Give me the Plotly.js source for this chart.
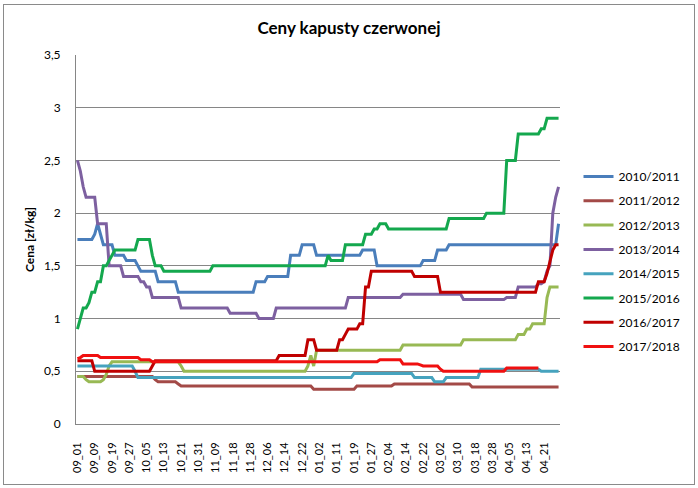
<!DOCTYPE html>
<html><head><meta charset="utf-8">
<script src="https://cdn.plot.ly/plotly-3.0.1.min.js"></script>
<style>
html,body{margin:0;padding:0;background:#fff;}
#chart{position:absolute;left:0;top:0;width:698px;height:488px;}
#frame{position:absolute;left:3px;top:4px;width:690px;height:479px;border:1px solid #8a8a8a;pointer-events:none;}
</style>
</head><body>
<div id="chart"></div><div id="frame"></div>
<script>
const tickLabels = ["09_01","09_09","09_19","09_27","10_05","10_13","10_21","10_31","11_09","11_18","11_28","12_06","12_14","12_22","01_02","01_11","01_19","01_27","02_04","02_14","02_22","03_02","03_10","03_18","03_28","04_05","04_13","04_21"];

const seriesNames = ["2010/2011","2011/2012","2012/2013","2013/2014","2014/2015","2015/2016","2016/2017","2017/2018"];
const seriesColors = ["#4A7EBB","#A34A47","#98B954","#7D60A0","#46A3BE","#14A84E","#C00000","#F01010"];

const s2010 = [
1.75,1.75,1.75,1.75,1.75,1.75,1.8,1.9,1.8,1.7,1.7,1.7,
1.7,1.6,1.6,1.6,1.6,1.55,1.55,1.55,1.55,1.5,1.45,1.45,
1.45,1.45,1.45,1.45,1.35,1.35,1.35,1.35,1.35,1.35,1.35,1.25,
1.25,1.25,1.25,1.25,1.25,1.25,1.25,1.25,1.25,1.25,1.25,1.25,
1.25,1.25,1.25,1.25,1.25,1.25,1.25,1.25,1.25,1.25,1.25,1.25,
1.25,1.25,1.35,1.35,1.35,1.35,1.4,1.4,1.4,1.4,1.4,1.4,
1.4,1.4,1.6,1.6,1.6,1.6,1.7,1.7,1.7,1.7,1.7,1.6,
1.6,1.6,1.6,1.6,1.6,1.6,1.6,1.6,1.6,1.6,1.6,1.6,
1.6,1.6,1.6,1.65,1.65,1.65,1.65,1.65,1.5,1.5,1.5,1.5,
1.5,1.5,1.5,1.5,1.5,1.5,1.5,1.5,1.5,1.5,1.5,1.5,
1.55,1.55,1.55,1.55,1.55,1.65,1.65,1.65,1.65,1.7,1.7,1.7,
1.7,1.7,1.7,1.7,1.7,1.7,1.7,1.7,1.7,1.7,1.7,1.7,
1.7,1.7,1.7,1.7,1.7,1.7,1.7,1.7,1.7,1.7,1.7,1.7,
1.7,1.7,1.7,1.7,1.7,1.7,1.7,1.7,1.7,1.7,1.7,1.9];

const s2011 = [
0.45,0.45,0.45,0.45,0.45,0.45,0.45,0.45,0.45,0.45,0.45,0.45,
0.45,0.45,0.45,0.45,0.45,0.45,0.45,0.45,0.45,0.45,0.45,0.45,
0.45,0.45,0.45,0.42,0.4,0.4,0.4,0.4,0.4,0.4,0.4,0.38,
0.36,0.36,0.36,0.36,0.36,0.36,0.36,0.36,0.36,0.36,0.36,0.36,
0.36,0.36,0.36,0.36,0.36,0.36,0.36,0.36,0.36,0.36,0.36,0.36,
0.36,0.36,0.36,0.36,0.36,0.36,0.36,0.36,0.36,0.36,0.36,0.36,
0.36,0.36,0.36,0.36,0.36,0.36,0.36,0.36,0.36,0.36,0.33,0.33,
0.33,0.33,0.33,0.33,0.33,0.33,0.33,0.33,0.33,0.33,0.33,0.33,
0.33,0.36,0.36,0.36,0.36,0.36,0.36,0.36,0.36,0.36,0.36,0.36,
0.36,0.36,0.38,0.38,0.38,0.38,0.38,0.38,0.38,0.38,0.38,0.38,
0.38,0.38,0.38,0.38,0.38,0.38,0.38,0.38,0.38,0.38,0.38,0.38,
0.38,0.38,0.38,0.38,0.38,0.35,0.35,0.35,0.35,0.35,0.35,0.35,
0.35,0.35,0.35,0.35,0.35,0.35,0.35,0.35,0.35,0.35,0.35,0.35,
0.35,0.35,0.35,0.35,0.35,0.35,0.35,0.35,0.35,0.35,0.35,0.35];

const s2012 = [
0.45,0.45,0.45,0.42,0.4,0.4,0.4,0.4,0.4,0.42,0.47,0.55,
0.59,0.59,0.59,0.59,0.59,0.59,0.59,0.59,0.59,0.59,0.59,0.59,
0.59,0.59,0.59,0.59,0.59,0.59,0.59,0.59,0.59,0.59,0.59,0.59,
0.55,0.5,0.5,0.5,0.5,0.5,0.5,0.5,0.5,0.5,0.5,0.5,
0.5,0.5,0.5,0.5,0.5,0.5,0.5,0.5,0.5,0.5,0.5,0.5,
0.5,0.5,0.5,0.5,0.5,0.5,0.5,0.5,0.5,0.5,0.5,0.5,
0.5,0.5,0.5,0.5,0.5,0.5,0.5,0.5,0.55,0.65,0.55,0.7,
0.7,0.7,0.7,0.7,0.7,0.7,0.7,0.7,0.7,0.7,0.7,0.7,
0.7,0.7,0.7,0.7,0.7,0.7,0.7,0.7,0.7,0.7,0.7,0.7,
0.7,0.7,0.7,0.7,0.7,0.75,0.75,0.75,0.75,0.75,0.75,0.75,
0.75,0.75,0.75,0.75,0.75,0.75,0.75,0.75,0.75,0.75,0.75,0.75,
0.75,0.75,0.8,0.8,0.8,0.8,0.8,0.8,0.8,0.8,0.8,0.8,
0.8,0.8,0.8,0.8,0.8,0.8,0.8,0.8,0.8,0.85,0.85,0.85,
0.9,0.9,0.95,0.95,0.95,0.95,0.95,1.2,1.3,1.3,1.3,1.3];

const s2013 = [
2.5,2.4,2.25,2.15,2.15,2.15,2.15,1.9,1.9,1.9,1.9,1.5,
1.5,1.5,1.5,1.5,1.4,1.4,1.4,1.4,1.4,1.4,1.35,1.35,
1.3,1.3,1.2,1.2,1.2,1.2,1.2,1.2,1.2,1.2,1.2,1.2,
1.1,1.1,1.1,1.1,1.1,1.1,1.1,1.1,1.1,1.1,1.1,1.1,
1.1,1.1,1.1,1.1,1.1,1.05,1.05,1.05,1.05,1.05,1.05,1.05,
1.05,1.05,1.05,1.0,1.0,1.0,1.0,1.0,1.0,1.1,1.1,1.1,
1.1,1.1,1.1,1.1,1.1,1.1,1.1,1.1,1.1,1.1,1.1,1.1,
1.1,1.1,1.1,1.1,1.1,1.1,1.1,1.1,1.1,1.1,1.2,1.2,
1.2,1.2,1.2,1.2,1.2,1.2,1.2,1.2,1.2,1.2,1.2,1.2,
1.2,1.2,1.2,1.2,1.2,1.23,1.23,1.23,1.23,1.23,1.23,1.23,
1.23,1.23,1.23,1.23,1.23,1.23,1.23,1.23,1.23,1.23,1.23,1.23,
1.23,1.23,1.18,1.18,1.18,1.18,1.18,1.18,1.18,1.18,1.18,1.18,
1.18,1.18,1.18,1.18,1.18,1.2,1.2,1.2,1.2,1.3,1.3,1.3,
1.3,1.3,1.3,1.3,1.33,1.33,1.35,1.45,1.5,2.0,2.15,2.25];

const s2014 = [
0.55,0.55,0.55,0.55,0.55,0.55,0.55,0.55,0.55,0.55,0.55,0.55,
0.55,0.55,0.55,0.55,0.55,0.55,0.55,0.55,0.5,0.44,0.44,0.44,
0.44,0.44,0.44,0.44,0.44,0.44,0.44,0.44,0.44,0.44,0.44,0.44,
0.44,0.44,0.44,0.44,0.44,0.44,0.44,0.44,0.44,0.44,0.44,0.44,
0.44,0.44,0.44,0.44,0.44,0.44,0.44,0.44,0.44,0.44,0.44,0.44,
0.44,0.44,0.44,0.44,0.44,0.44,0.44,0.44,0.44,0.44,0.44,0.44,
0.44,0.44,0.44,0.44,0.44,0.44,0.44,0.44,0.44,0.44,0.44,0.44,
0.44,0.44,0.44,0.44,0.44,0.44,0.44,0.44,0.44,0.44,0.44,0.44,
0.48,0.48,0.48,0.48,0.48,0.48,0.48,0.48,0.48,0.48,0.48,0.48,
0.48,0.48,0.48,0.48,0.48,0.48,0.48,0.48,0.48,0.44,0.44,0.44,
0.44,0.44,0.44,0.44,0.4,0.4,0.4,0.4,0.44,0.44,0.44,0.44,
0.44,0.44,0.44,0.44,0.44,0.44,0.44,0.44,0.52,0.52,0.52,0.52,
0.52,0.52,0.52,0.52,0.52,0.52,0.52,0.52,0.52,0.52,0.52,0.52,
0.52,0.52,0.52,0.52,0.52,0.5,0.5,0.5,0.5,0.5,0.5,0.5];

const s2015 = [
0.9,1.0,1.1,1.1,1.15,1.25,1.25,1.35,1.35,1.5,1.5,1.55,
1.6,1.65,1.65,1.65,1.65,1.65,1.65,1.65,1.65,1.75,1.75,1.75,
1.75,1.75,1.6,1.5,1.5,1.5,1.45,1.45,1.45,1.45,1.45,1.45,
1.45,1.45,1.45,1.45,1.45,1.45,1.45,1.45,1.45,1.45,1.45,1.5,
1.5,1.5,1.5,1.5,1.5,1.5,1.5,1.5,1.5,1.5,1.5,1.5,
1.5,1.5,1.5,1.5,1.5,1.5,1.5,1.5,1.5,1.5,1.5,1.5,
1.5,1.5,1.5,1.5,1.5,1.5,1.5,1.5,1.5,1.5,1.5,1.5,
1.5,1.5,1.5,1.6,1.55,1.55,1.55,1.55,1.55,1.7,1.7,1.7,
1.7,1.7,1.7,1.7,1.8,1.8,1.8,1.85,1.85,1.9,1.9,1.9,
1.85,1.85,1.85,1.85,1.85,1.85,1.85,1.85,1.85,1.85,1.85,1.85,
1.85,1.85,1.85,1.85,1.85,1.85,1.85,1.85,1.85,1.95,1.95,1.95,
1.95,1.95,1.95,1.95,1.95,1.95,1.95,1.95,1.95,1.95,2.0,2.0,
2.0,2.0,2.0,2.0,2.0,2.5,2.5,2.5,2.5,2.75,2.75,2.75,
2.75,2.75,2.75,2.75,2.75,2.8,2.8,2.9,2.9,2.9,2.9,2.9];

const s2016 = [
0.6,0.6,0.6,0.6,0.6,0.6,0.5,0.5,0.5,0.5,0.5,0.5,
0.5,0.5,0.5,0.5,0.5,0.5,0.5,0.5,0.5,0.5,0.5,0.5,
0.5,0.5,0.55,0.6,0.6,0.6,0.6,0.6,0.6,0.6,0.6,0.6,
0.6,0.6,0.6,0.6,0.6,0.6,0.6,0.6,0.6,0.6,0.6,0.6,
0.6,0.6,0.6,0.6,0.6,0.6,0.6,0.6,0.6,0.6,0.6,0.6,
0.6,0.6,0.6,0.6,0.6,0.6,0.6,0.6,0.6,0.6,0.65,0.65,
0.65,0.65,0.65,0.65,0.65,0.65,0.65,0.65,0.8,0.8,0.8,0.7,
0.7,0.7,0.7,0.7,0.7,0.7,0.7,0.8,0.8,0.85,0.9,0.9,
0.9,0.9,0.95,0.95,1.3,1.3,1.45,1.45,1.45,1.45,1.45,1.45,
1.45,1.45,1.45,1.45,1.45,1.45,1.45,1.45,1.45,1.4,1.4,1.4,
1.4,1.4,1.4,1.4,1.4,1.4,1.25,1.25,1.25,1.25,1.25,1.25,
1.25,1.25,1.25,1.25,1.25,1.25,1.25,1.25,1.25,1.25,1.25,1.25,
1.25,1.25,1.25,1.25,1.25,1.25,1.25,1.25,1.25,1.25,1.25,1.25,
1.25,1.25,1.25,1.25,1.35,1.35,1.35,1.43,1.55,1.65,1.7,1.7];

const s2017 = [
0.62,0.63,0.65,0.65,0.65,0.65,0.65,0.65,0.63,0.63,0.63,0.63,
0.63,0.63,0.63,0.63,0.63,0.63,0.63,0.63,0.63,0.63,0.61,0.61,
0.61,0.61,0.59,0.59,0.59,0.59,0.59,0.59,0.59,0.59,0.59,0.59,
0.59,0.59,0.59,0.59,0.59,0.59,0.59,0.59,0.59,0.59,0.59,0.59,
0.59,0.59,0.59,0.59,0.59,0.59,0.59,0.59,0.59,0.59,0.59,0.59,
0.59,0.59,0.59,0.59,0.59,0.59,0.59,0.59,0.59,0.59,0.59,0.59,
0.59,0.59,0.59,0.59,0.59,0.59,0.59,0.59,0.59,0.59,0.59,0.59,
0.59,0.59,0.59,0.59,0.59,0.59,0.59,0.59,0.59,0.59,0.59,0.59,
0.59,0.59,0.59,0.59,0.59,0.59,0.59,0.59,0.59,0.61,0.61,0.61,
0.61,0.61,0.61,0.61,0.61,0.57,0.57,0.57,0.57,0.57,0.57,0.56,
0.55,0.55,0.55,0.55,0.55,0.55,0.52,0.5,0.5,0.5,0.5,0.5,
0.5,0.5,0.5,0.5,0.5,0.5,0.5,0.5,0.5,0.5,0.5,0.5,
0.5,0.5,0.5,0.5,0.5,0.53,0.53,0.53,0.53,0.53,0.53,0.53,
0.53,0.53,0.53,0.53,0.53,null,null,null,null,null,null,null];

const seriesValues = [s2010, s2011, s2012, s2013, s2014, s2015, s2016, s2017];

const traces = seriesValues.map((vals, k) => ({
  type: 'scatter', mode: 'lines',
  name: seriesNames[k],
  legendgroup: 'g' + k,
  x: vals.map((_, i) => i),
  y: vals,
  line: {color: seriesColors[k], width: 3},
  connectgaps: false,
  hoverinfo: 'skip'
}));

const tickPositions = tickLabels.map((_, k) => k * 6);

const layout = {
  width: 698, height: 488,
  margin: {l: 76, r: 125, t: 55, b: 64, pad: 0},
  paper_bgcolor: '#ffffff', plot_bgcolor: '#ffffff',
  separators: ', ',
  font: {family: 'Lato, "Open Sans", sans-serif', size: 12, color: '#000'},
  title: {
    text: 'Ceny kapusty czerwonej',
    font: {family: 'Lato, sans-serif', size: 17, color: '#000', weight: 'bold'},
    xref: 'container', x: 0.5, xanchor: 'center',
    yref: 'container', y: 1 - 28 / 488, yanchor: 'middle'
  },
  xaxis: {
    range: [-0.5, 167.5],
    tickmode: 'array', tickvals: tickPositions, ticktext: tickLabels,
    tickangle: -90, ticks: '', showgrid: false, zeroline: false,
    showline: true, linecolor: '#868686', linewidth: 1,
    ticklabelstandoff: 13,
    tickfont: {size: 11, color: '#000'},
    fixedrange: true
  },
  yaxis: {
    range: [0, 3.5], tick0: 0, dtick: 0.5,
    ticks: '', showgrid: true, gridcolor: '#868686', gridwidth: 1,
    zeroline: false, showline: true, linecolor: '#868686', linewidth: 1,
    ticklabelstandoff: 12,
    tickfont: {size: 12, color: '#000'},
    title: {text: 'Cena [zł/kg]', font: {size: 12, color: '#000', weight: 'bold'}, standoff: 6},
    fixedrange: true
  },
  showlegend: true,
  legend: {
    x: (592 - 76) / 497, xanchor: 'left',
    y: (424 - 162) / 369, yanchor: 'top',
    font: {size: 12, color: '#000'},
    tracegroupgap: 5.3,
    bgcolor: 'rgba(0,0,0,0)',
    itemwidth: 30
  }
};

Plotly.newPlot('chart', traces, layout, {staticPlot: true, displayModeBar: false});
</script>
</body></html>
